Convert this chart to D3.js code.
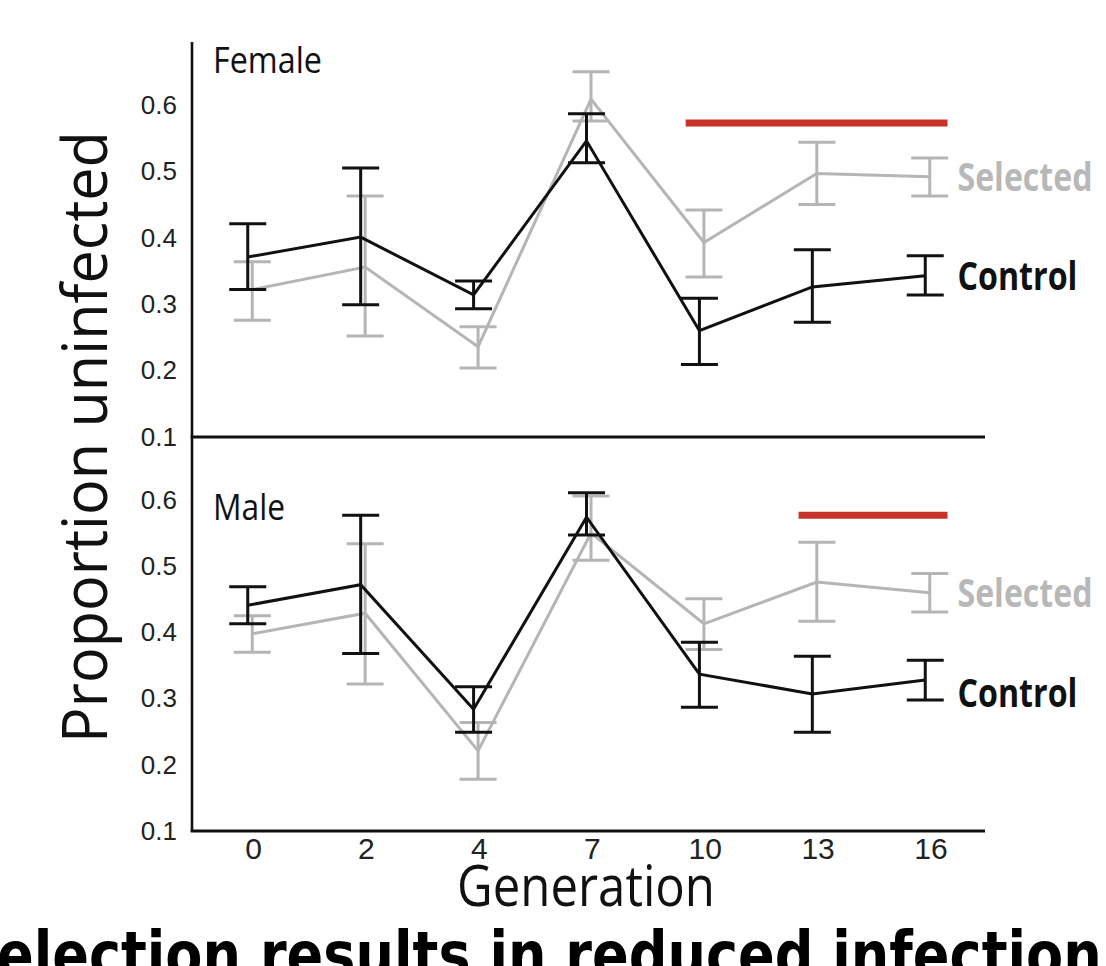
<!DOCTYPE html>
<html>
<head>
<meta charset="utf-8">
<script src="https://cdn.jsdelivr.net/npm/d3@7"></script>
<style>
  html, body { margin: 0; padding: 0; background: #fff; overflow: hidden; }
  svg { display: block; }
</style>
</head>
<body>
<svg id="chart" width="1106" height="966"></svg>
<script>
// ---------------- DATA ----------------
const generations = ["0", "2", "4", "7", "10", "13", "16"];
const yTicks = [0.1, 0.2, 0.3, 0.4, 0.5, 0.6];

// Female panel
const femaleControl   = [0.371, 0.401, 0.314, 0.546, 0.260, 0.326, 0.343];
const femaleControlLo = [0.322, 0.299, 0.293, 0.513, 0.209, 0.273, 0.314];
const femaleControlHi = [0.421, 0.505, 0.335, 0.587, 0.309, 0.382, 0.373];
const femaleSelected   = [0.322, 0.356, 0.236, 0.609, 0.393, 0.497, 0.492];
const femaleSelectedLo = [0.276, 0.252, 0.204, 0.576, 0.341, 0.450, 0.463];
const femaleSelectedHi = [0.364, 0.463, 0.266, 0.650, 0.442, 0.544, 0.520];

// Male panel
const maleControl   = [0.441, 0.472, 0.284, 0.574, 0.337, 0.307, 0.328];
const maleControlLo = [0.413, 0.368, 0.249, 0.547, 0.287, 0.249, 0.298];
const maleControlHi = [0.469, 0.577, 0.318, 0.611, 0.385, 0.364, 0.358];
const maleSelected   = [0.398, 0.429, 0.221, 0.550, 0.413, 0.476, 0.460];
const maleSelectedLo = [0.370, 0.322, 0.178, 0.509, 0.374, 0.417, 0.431];
const maleSelectedHi = [0.425, 0.534, 0.264, 0.606, 0.451, 0.536, 0.489];

// Significance bars (generation range, height in data units)
const femaleSigBar = { from: "10", to: "16", value: 0.573 };
const maleSigBar   = { from: "13", to: "16", value: 0.577 };

const panelNames = ["Female", "Male"];
const seriesNames = ["Selected", "Control"];
const yLabel = "Proportion uninfected";
const xLabel = "Generation";
const title = "Selection results in reduced infection";

// ---------------- LAYOUT ----------------
const svg = d3.select("#chart");
const axisX = 192;
const rightEnd = 985;
const BLACK = "#111111";
const GRAY = "#b5b5b5";
const RED = "#c8322b";

// squeeze a text horizontally to a target width (keeps real bbox correct)
function fitText(sel, x, y, target, anchor) {
  const len = sel.node().getComputedTextLength();
  const k = target / len;
  sel.attr("x", 0).attr("y", 0).attr("text-anchor", anchor || "start")
     .attr("transform", `translate(${x},${y}) scale(${k},1)`);
  return sel;
}

const x = d3.scalePoint().domain(generations).range([250, 927.5]);
const seriesOffset = { Control: -2.25, Selected: 2.25 };

const panels = [
  {
    name: panelNames[0],
    y: d3.scaleLinear().domain([0.1, 0.6]).range([437, 105]),
    series: [
      { name: seriesNames[0], color: GRAY, v: femaleSelected, lo: femaleSelectedLo, hi: femaleSelectedHi },
      { name: seriesNames[1], color: BLACK, v: femaleControl,  lo: femaleControlLo,  hi: femaleControlHi }
    ],
    sig: femaleSigBar,
    labelY: 73
  },
  {
    name: panelNames[1],
    y: d3.scaleLinear().domain([0.1, 0.6]).range([831, 500]),
    series: [
      { name: seriesNames[0], color: GRAY, v: maleSelected, lo: maleSelectedLo, hi: maleSelectedHi },
      { name: seriesNames[1], color: BLACK, v: maleControl,  lo: maleControlLo,  hi: maleControlHi }
    ],
    sig: maleSigBar,
    labelY: 520
  }
];

// ---------------- AXES ----------------
svg.append("line")
  .attr("x1", axisX).attr("x2", axisX)
  .attr("y1", 42).attr("y2", 832)
  .attr("stroke", BLACK).attr("stroke-width", 2.6);

panels.forEach((p) => {
  svg.append("line")
    .attr("x1", axisX - 1.3).attr("x2", rightEnd)
    .attr("y1", p.y(0.1)).attr("y2", p.y(0.1))
    .attr("stroke", BLACK).attr("stroke-width", 2.8);

  const ax = svg.append("g")
    .attr("transform", `translate(${axisX},0)`)
    .call(d3.axisLeft(p.y).tickValues(yTicks).tickSize(0).tickPadding(15).tickFormat(d3.format(".1f")));
  ax.select(".domain").remove();
  ax.selectAll("text")
    .attr("font-family", "'Liberation Sans', Arial, sans-serif")
    .attr("font-size", 26)
    .attr("fill", "#222");

  // panel label
  const pl = svg.append("text")
    .attr("font-family", "'Open Sans', 'Noto Sans', sans-serif")
    .attr("font-size", 36)
    .attr("fill", "#111")
    .text(p.name);
  fitText(pl, 213, p.labelY, p.name === "Female" ? 109 : 72);

  // significance bar
  svg.append("line")
    .attr("x1", x(p.sig.from) - 16).attr("x2", x(p.sig.to) + 20)
    .attr("y1", p.y(p.sig.value)).attr("y2", p.y(p.sig.value))
    .attr("stroke", RED).attr("stroke-width", 7);

  p.series.forEach(s => {
    const pts = generations.map((g, j) => ({
      x: x(g) + seriesOffset[s.name], v: s.v[j], lo: s.lo[j], hi: s.hi[j]
    }));
    const g = svg.append("g");
    const line = d3.line().x(d => d.x).y(d => p.y(d.v));
    g.append("path").datum(pts)
      .attr("d", line)
      .attr("fill", "none")
      .attr("stroke", s.color)
      .attr("stroke-width", 3)
      .attr("stroke-linejoin", "miter");
    const capW = 18.5;
    const eb = g.selectAll(".eb").data(pts).enter().append("g");
    eb.append("line")
      .attr("x1", d => d.x).attr("x2", d => d.x)
      .attr("y1", d => p.y(d.lo)).attr("y2", d => p.y(d.hi))
      .attr("stroke", s.color).attr("stroke-width", 3);
    eb.append("line")
      .attr("x1", d => d.x - capW).attr("x2", d => d.x + capW)
      .attr("y1", d => p.y(d.hi)).attr("y2", d => p.y(d.hi))
      .attr("stroke", s.color).attr("stroke-width", 3);
    eb.append("line")
      .attr("x1", d => d.x - capW).attr("x2", d => d.x + capW)
      .attr("y1", d => p.y(d.lo)).attr("y2", d => p.y(d.lo))
      .attr("stroke", s.color).attr("stroke-width", 3);

    const last = s.v[s.v.length - 1];
    const extra = (p.name === "Male" && s.name === "Control") ? 12 : 0;
    const t = svg.append("text")
      .attr("font-family", "'Open Sans', 'Noto Sans', sans-serif")
      .attr("font-weight", "bold")
      .attr("font-size", 40)
      .attr("fill", s.name === "Selected" ? "#b8b8b8" : "#111")
      .text(s.name);
    fitText(t, x(generations[generations.length - 1]) + 30, p.y(last) + extra + 14.5,
            s.name === "Selected" ? 135 : 120);
  });
});

// x axis tick labels
const xAx = svg.append("g")
  .attr("transform", `translate(3,${panels[1].y(0.1)})`)
  .call(d3.axisBottom(x).tickSize(0).tickPadding(7));
xAx.select(".domain").remove();
xAx.selectAll("text")
  .attr("font-family", "'Liberation Sans Narrow', 'Liberation Sans', Arial, sans-serif")
  .attr("font-size", 30)
  .attr("fill", "#222");

// axis titles
const xt = svg.append("text")
  .attr("font-family", "'Open Sans', 'Noto Sans', sans-serif")
  .attr("font-size", 57)
  .attr("fill", "#111")
  .text(xLabel);
fitText(xt, 586, 906, 258, "middle");

const yt = svg.append("text")
  .attr("font-family", "'Open Sans', 'Noto Sans', sans-serif")
  .attr("font-size", 62)
  .attr("fill", "#111")
  .text(yLabel);
{
  const len = yt.node().getComputedTextLength();
  yt.attr("text-anchor", "middle")
    .attr("transform", `translate(107,437) rotate(-90) scale(${612 / len},1)`);
}

// cut-off title at the bottom
const tt = svg.append("text")
  .attr("font-family", "'DejaVu Sans', sans-serif")
  .attr("font-weight", "bold")
  .attr("font-size", 64)
  .attr("fill", "#000")
  .text(title);
fitText(tt, -42, 977, 1144);
</script>
</body>
</html>
